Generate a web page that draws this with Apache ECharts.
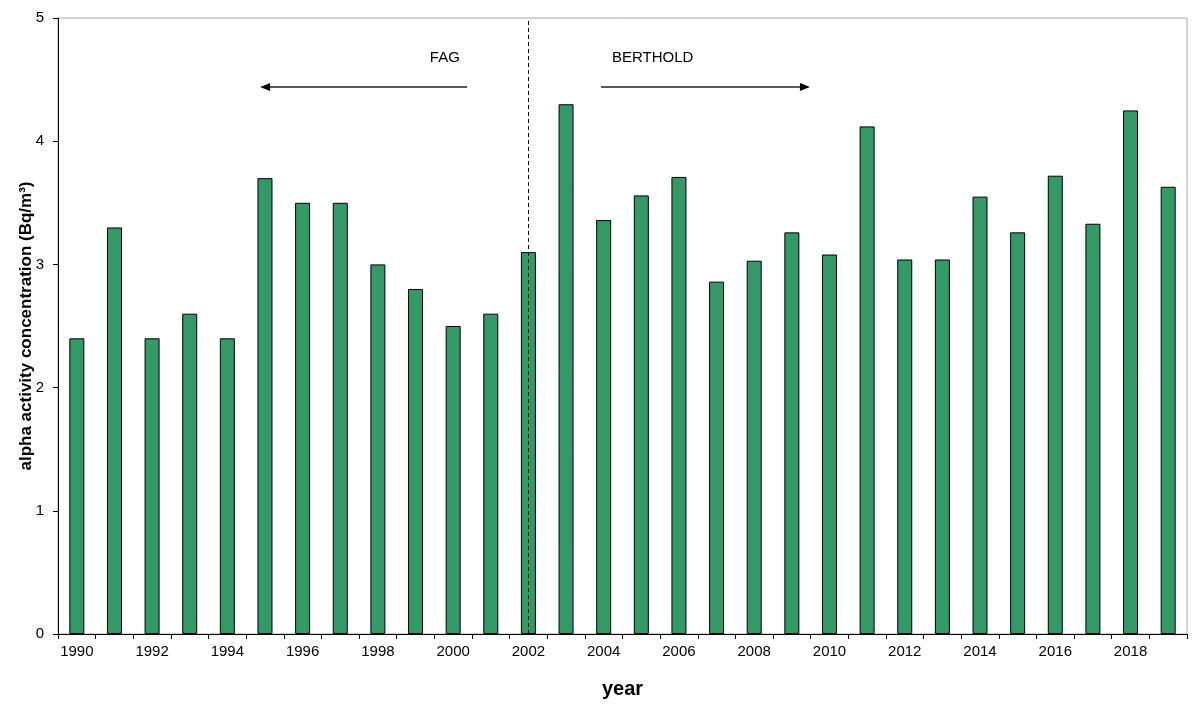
<!DOCTYPE html>
<html>
<head>
<meta charset="utf-8">
<script src="https://cdn.jsdelivr.net/npm/echarts@6/dist/echarts.min.js"></script>
<style>
  html, body { margin: 0; padding: 0; background: #fff; }
  #chart { width: 1199px; height: 704px; }
</style>
</head>
<body>
<div id="chart"></div>
<script>
// Yearly mean alpha activity concentration, 1990–2019
const years = [
  '1990','1991','1992','1993','1994','1995','1996','1997','1998','1999',
  '2000','2001','2002','2003','2004','2005','2006','2007','2008','2009',
  '2010','2011','2012','2013','2014','2015','2016','2017','2018','2019'
];
const alphaConc = [
  2.4, 3.3, 2.4, 2.6, 2.4, 3.7, 3.5, 3.5, 3.0, 2.8,
  2.5, 2.6, 3.1, 4.3, 3.36, 3.56, 3.71, 2.86, 3.03, 3.26,
  3.08, 4.12, 3.04, 3.04, 3.55, 3.26, 3.72, 3.33, 4.25, 3.63
];
const yMin = 0;
const yMax = 5;
const yStep = 1;

// Year in which the measuring device changed
const changeYear = '2002';
// Device labels and their arrow spans (category index, value)
const deviceNames = ['FAG', 'BERTHOLD'];
const deviceLabelPos = [[9.78, 4.68], [15.3, 4.68]];
const deviceArrows = [[[10.37, 4.44], [4.87, 4.44]], [[13.93, 4.44], [19.48, 4.44]]];

const FONT = '"Liberation Sans", Arial, sans-serif';
const chart = echarts.init(document.getElementById('chart'), null, { renderer: 'canvas' });

chart.setOption({
  animation: false,
  backgroundColor: '#ffffff',
  grid: {
    left: 58, right: 12, top: 18, bottom: 69,
    show: true, borderColor: '#a6a6a6', borderWidth: 1, backgroundColor: 'transparent'
  },
  xAxis: {
    type: 'category',
    data: years,
    boundaryGap: true,
    name: 'year',
    nameLocation: 'middle',
    nameGap: 45,
    nameMoveOverlap: false,
    nameTextStyle: { fontFamily: FONT, fontSize: 20, fontWeight: 'bold', color: '#000' },
    axisLine: { lineStyle: { color: '#000', width: 1 } },
    axisTick: { show: true, interval: 0, length: 5, lineStyle: { color: '#000' } },
    axisLabel: { interval: 1, margin: 10, fontFamily: FONT, fontSize: 15, color: '#000' },
    splitLine: { show: false }
  },
  yAxis: {
    type: 'value',
    min: yMin, max: yMax, interval: yStep,
    name: 'alpha activity concentration (Bq/m³)',
    nameLocation: 'middle',
    nameGap: 23,
    nameMoveOverlap: false,
    nameTextStyle: { fontFamily: FONT, fontSize: 17, fontWeight: 'bold', color: '#000' },
    axisLine: { show: true, lineStyle: { color: '#000', width: 1 } },
    axisTick: { show: true, length: 5, lineStyle: { color: '#000' } },
    axisLabel: { margin: 14, fontFamily: FONT, fontSize: 15, color: '#000' },
    splitLine: { show: false }
  },
  series: [{
    type: 'bar',
    data: alphaConc,
    barWidth: 15,
    itemStyle: { color: '#339966', borderColor: '#000', borderWidth: 1 },
    markLine: {
      silent: true,
      symbol: ['none', 'none'],
      label: { show: false },
      lineStyle: { color: '#000', type: [4, 3], width: 1 },
      data: [{ xAxis: changeYear }]
    }
  }]
});

// Device annotations: labels and arrows placed through the axes' own scales
function drawDeviceNotes() {
  const x0 = chart.convertToPixel({ xAxisIndex: 0 }, years[0]);
  const x1 = chart.convertToPixel({ xAxisIndex: 0 }, years[1]);
  const step = x1 - x0;
  const px = i => x0 + i * step;
  const py = v => chart.convertToPixel({ yAxisIndex: 0 }, v);
  const els = [];
  deviceNames.forEach((name, k) => {
    const [lx, ly] = deviceLabelPos[k];
    els.push({
      type: 'text', silent: true,
      style: { text: name, x: px(lx), y: py(ly), align: 'center', verticalAlign: 'middle',
               font: '15px ' + FONT, fill: '#000' }
    });
    const [from, to] = deviceArrows[k];
    const xa = px(from[0]), xb = px(to[0]), y = py(from[1]);
    const dir = Math.sign(xb - xa);
    const headLen = 10, headHalf = 4;
    els.push({
      type: 'line', silent: true,
      shape: { x1: xa, y1: y, x2: xb - dir * headLen * 0.6, y2: y },
      style: { stroke: '#222', lineWidth: 1.3 }
    });
    els.push({
      type: 'polygon', silent: true,
      shape: { points: [[xb, y], [xb - dir * headLen, y - headHalf], [xb - dir * headLen, y + headHalf]] },
      style: { fill: '#000' }
    });
  });
  chart.setOption({ graphic: els });
}
drawDeviceNotes();
</script>
</body>
</html>
